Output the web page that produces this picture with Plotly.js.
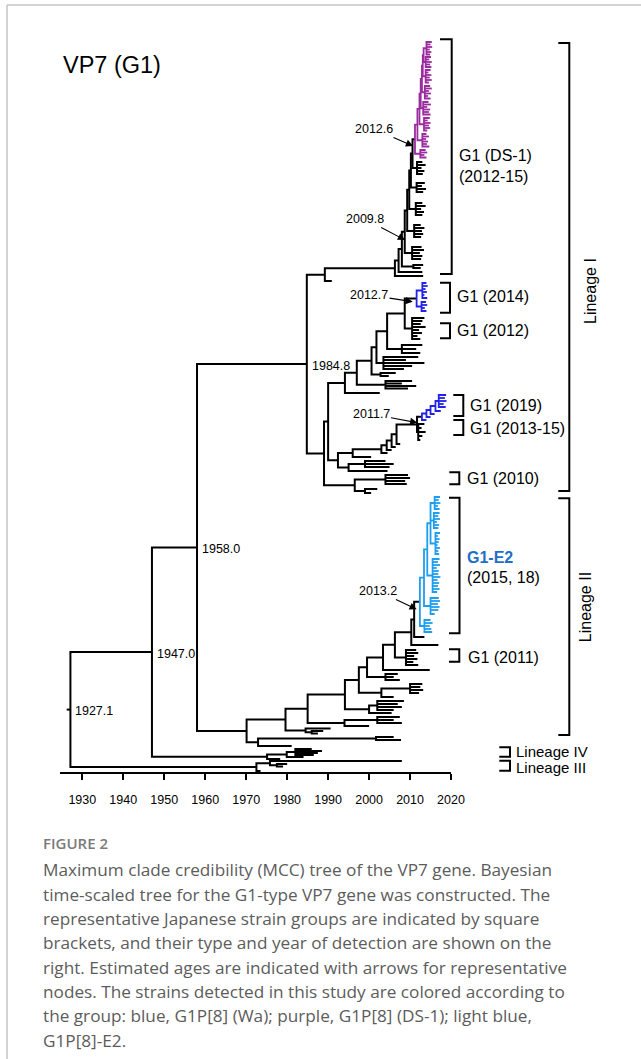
<!DOCTYPE html>
<html><head><meta charset="utf-8">
<script src="https://cdn.plot.ly/plotly-3.0.1.min.js"></script>
<style>html,body{margin:0;padding:0;background:#fff}#chart{width:641px;height:1059px}</style>
</head><body><div id="chart"></div>
<script>
// ================= DATA =================
// Axis ticks (years)
const tickYears = [1930, 1940, 1950, 1960, 1970, 1980, 1990, 2000, 2010, 2020];
const tickLabels = ["1930", "1940", "1950", "1960", "1970", "1980", "1990", "2000", "2010", "2020"];

// Tree in a Newick-like notation: tip = "date@row", internal = "(children)date", "#p/#b/#l" = clade colour
// Lineage I – G1 (DS-1) purple clade (strains of this study)
const ds1PurpleTop = "((2015.3@42,2015.0@44.5,2015.4@47,2014.8@49.5,2015.2@52,2014.9@54.5)2014.0,(2015.1@57,2014.7@59.5,2015.3@62,2014.9@64.5,2015.2@67)2013.8)2013.3";
const ds1PurpleSteps = [
  ["(2015.0@70,2014.5@72.5,2015.2@75,2014.8@77.5,2015.3@80,2014.6@82.5)2013.8", 2013.1],
  ["(2014.9@86,2015.3@88.5,2014.6@91,2015.1@93.5,2014.4@96,2015.0@98.5)2013.6", 2012.9],
  ["(2014.5@102,2015.1@104.5,2014.2@107,2014.9@109.5,2014.6@112,2015.0@114.5)2013.2", 2012.6],
  ["(2014.8@118,2014.3@120.5,2015.0@123,2014.6@125.5,2014.9@128,2014.2@130.5)2013.4", 2012.3],
  ["(2014.0@134,2014.6@136.5,2013.9@139,2014.4@141.5,2014.1@144,2014.7@146.5)2013.0", 2011.8],
  ["(2013.8@150,2014.2@152.5,2013.5@155,2014.0@157.5)2012.5", 2011.2]
];
// Lineage I – black part of the G1 (DS-1) group
const ds1BlackSteps = [
  ["(2013.0@162,2013.8@165,2012.8@168,2013.5@171,2013.1@174)2011.7", 2010.6],
  ["(2013.6@183,2012.9@186,2013.9@189,2013.2@192)2011.6", 2010.2],
  ["(2013.0@203,2013.8@206,2012.7@209,2013.4@212,2013.0@215)2011.4", 2009.8],
  ["(2012.6@225,2013.5@228,2012.9@231,2013.2@234,2012.7@237)2011.0", 2009.3],
  ["(2012.8@247,2013.4@250,2012.4@253,2013.0@256,2012.7@259)2010.5", 2008.7],
  ["(2013.2@265,2012.6@268)2010.8", 2008.0],
  ["2013.0@272", 2007.2],
  ["2013.2@276", 2006.3]
];
const ds1Sister = "1990.9@281";
// Lineage I – G1 (2014) blue, G1 (2012)
const clade2014 = "((2014.0@283,2014.3@286,2013.8@289,2014.1@292,2013.5@295,2014.2@298)2013.0,(2013.9@302,2014.2@305,2013.6@308,2014.0@311)2012.8)2011.6#b";
const clade2012 = "(2013.5@318,2013.0@321,2012.6@324,2013.8@327,2012.2@330,2012.9@333,2011.8@336,2012.5@339)2010.5";
const cladeJSteps = [
  ["(2013.0@345,2011.5@349,2012.5@353)2008.0", 2004.4],
  ["(2012.0@357,2009.0@360,2013.5@363,2010.5@366,2008.5@369)2003.5", 2001.8],
  ["(2006.5@373,2004.8@376)2002.8", 2000.6],
  ["(2010.5@381,2008.0@383.5,2011.5@386,2009.5@388.5)2004.0", 1997.0],
  ["2002.6@393", 1994.1]
];
// Lineage I – G1 (2019) blue, G1 (2013-15)
const clade2019Top = "(2018.8@395,2018.5@398,2018.9@401,2018.2@404,2018.7@407)2017.0";
const clade2019Steps = [["2017.5@411", 2016.2], ["2016.0@414", 2015.0], ["2015.0@417", 2014.0], ["2014.0@420", 2012.9]];
const clade201315 = "(2013.5@424,2012.8@428,2013.8@432,2013.0@436,2012.5@440)2012.0";
const cladeKSteps = [["2007.6@444", 2006.7], ["2006.5@447", 2005.5], ["2005.5@450", 2004.3], ["2004.5@453", 2003.0], ["2000.5@457", 1996.0]];
const cladeK2 = "((2004.0@461,2006.0@464,2005.0@467)1999.0,2004.5@471)1995.0";
// Lineage I – G1 (2010) and neighbours
const clade2010 = "((2009.5@475,2010.0@478,2008.8@481,2009.2@484)2004.0,(2002.0@489,2000.5@493)1999.0)1996.5";
// Lineage II – G1-E2 light blue clade
const e2Top = "((2017.3@497,2017.0@500,2017.4@503,2016.8@506,2017.2@509)2016.0,(2017.2@513,2016.9@516,2017.3@519,2016.6@522,2017.1@525,2016.9@528)2015.8,(2017.3@533,2016.8@536,2017.2@539,2017.0@542,2016.7@545,2017.3@548,2016.9@551,2017.1@554)2016.2)2015.0";
const e2Steps = [
  ["(2017.2@559,2016.8@562,2017.3@565,2016.5@568,2017.0@571,2016.9@574,2017.4@577,2016.7@580,2017.1@583,2016.8@586,2017.2@589,2016.6@592)2015.5", 2014.2],
  ["(2017.0@598,2017.3@601,2016.8@604,2017.2@607,2016.9@610,2016.0@614)2015.0", 2013.4],
  ["(2015.0@620,2015.5@623,2014.8@626,2015.2@629,2015.4@632)2013.5", 2012.4]
];
// Lineage II – backbone with side groups (incl. G1 (2011))
const lineage2Steps = [
  ["2013.5@637", 2011.0],
  ["2016.9@645", 2010.3],
  ["(2011.5@650,2012.0@653,2011.0@656,2011.8@659,2010.8@662,2012.0@665)2009.0", 2006.3],
  ["2014.8@670", 2003.4],
  ["(2007.0@674,2006.0@677,2007.5@680)2004.0", 1999.5],
  ["((2013.0@684,2012.5@687,2013.2@690,2012.2@693)2010.0,2006.0@697)2003.0", 1997.5],
  ["((2008.5@701,2007.0@704,2008.0@707,2006.0@710)2002.0,2005.5@713)2000.0", 1994.1],
  ["((2007.5@717,2006.0@720,2008.0@723)2002.0,2000.0@726)1994.0", 1985.0],
  ["(1990.6@728.5,(1988.8@731,1987.5@733.5)1986.0)1984.5", 1979.6],
  ["((2006.0@737,2007.8@740)2001.7,1981.1@746)1972.9", 1970.1]
];
// Lineage IV and III
const lineage4 = "(((1986.0@749,1988.5@751,1987.5@753,1986.5@755)1982.0,1984.0@757)1979.9,1978.3@759)1975.1";
const lineage3 = "((2008.0@761,(1980.0@764,1979.0@766.5)1977.5)1975.8,1973.5@771)1972.5";
// Dated deep nodes
const dateLineageI = 1984.8, dateSplitI_II = 1958.0, dateSplitIV = 1947.0, dateRoot = 1927.1;
const nodeLabelDates = [1927.1, 1947.0, 1958.0, 1984.8];
const arrowLabels = ["2012.6", "2009.8", "2012.7", "2011.7", "2013.2"];
const groupLabels = ["G1 (DS-1)", "(2012-15)", "G1 (2014)", "G1 (2012)", "G1 (2019)", "G1 (2013-15)", "G1 (2010)", "G1-E2", "(2015, 18)", "G1 (2011)"];
const lineageLabels = ["Lineage I", "Lineage II", "Lineage IV", "Lineage III"];
const captionHead = "FIGURE 2";
const captionLines = [
  "Maximum clade credibility (MCC) tree of the VP7 gene. Bayesian",
  "time-scaled tree for the G1-type VP7 gene was constructed. The",
  "representative Japanese strain groups are indicated by square",
  "brackets, and their type and year of detection are shown on the",
  "right. Estimated ages are indicated with arrows for representative",
  "nodes. The strains detected in this study are colored according to",
  "the group: blue, G1P[8] (Wa); purple, G1P[8] (DS-1); light blue,",
  "G1P[8]-E2."
];

// ================= BUILD TREE =================
function comb(top, steps) { let s = top; for (const [side, d] of steps) s = "(" + s + "," + side + ")" + d; return s; }
const ds1Purple = comb(ds1PurpleTop, ds1PurpleSteps) + "#p";
const ds1 = comb(ds1Purple, ds1BlackSteps);
const lineageIupper = "(" + ds1 + "," + ds1Sister + ")1989.2";
const cladeJ = comb("(" + clade2014 + "," + clade2012 + ")2008.7", cladeJSteps);
const blue2019 = comb(clade2019Top, clade2019Steps) + "#b";
const cladeK1 = comb("(" + blue2019 + "," + clade201315 + ")2011.7", cladeKSteps);
const lineageI = "(" + lineageIupper + ",((" + cladeJ + ",(" + cladeK1 + "," + cladeK2 + ")1992.4)1990.0," + clade2010 + ")1989.0)" + dateLineageI;
const g1e2 = comb(e2Top, e2Steps) + "#l";
const lineageII = comb(g1e2, lineage2Steps);
const treeStr = "(((" + lineageI + "," + lineageII + ")" + dateSplitI_II + "," + lineage4 + ")" + dateSplitIV + "," + lineage3 + ")" + dateRoot;

function parse(s) {
  let i = 0;
  function num() { const st = i; while (i < s.length && /[0-9.]/.test(s[i])) i++; return parseFloat(s.slice(st, i)); }
  function node() {
    const n = { children: [] };
    if (s[i] === "(") {
      i++; n.children.push(node());
      while (s[i] === ",") { i++; n.children.push(node()); }
      i++; n.date = num();
    } else { n.date = num(); i++; n.y = num(); }
    if (s[i] === "#") { n.color = s[i + 1]; i += 2; }
    return n;
  }
  return node();
}
const root = parse(treeStr);
function setY(n) { if (!n.children.length) return n.y; n.children.forEach(setY); n.y = (n.children[0].y + n.children[n.children.length - 1].y) / 2; return n.y; }
setY(root);

const colorMap = { k: "#000000", p: "#9b2c9f", b: "#2323e8", l: "#1e9ef0" };
const segs = { k: { x: [], y: [] }, p: { x: [], y: [] }, b: { x: [], y: [] }, l: { x: [], y: [] } };
function add(c, xs, ys) { segs[c].x.push(...xs, null); segs[c].y.push(...ys, null); }
const labelled = [];
function walk(n, ctx) {
  const c = n.color || ctx;
  if (nodeLabelDates.includes(n.date) && n.children.length) labelled.push(n);
  if (!n.children.length) return;
  const f = n.children[0], l = n.children[n.children.length - 1];
  add(c, [f.date, n.date, n.date, l.date], [f.y, f.y, l.y, l.y]);
  for (let k = 1; k < n.children.length - 1; k++) { const m = n.children[k]; add(c, [n.date, m.date], [m.y, m.y]); }
  n.children.forEach(ch => walk(ch, c));
}
add("k", [root.date - 0.9, root.date], [root.y, root.y]);
walk(root, "k");

const traces = ["k", "p", "b", "l"].map(c => ({
  type: "scatter", mode: "lines", x: segs[c].x, y: segs[c].y, hoverinfo: "skip", connectgaps: false,
  line: { color: colorMap[c], width: c === "k" ? 2 : 1.8 }
}));

// ================= LAYOUT =================
const W = 641, H = 1059, PB = 773;          // plot area bottom (axis) in px
const X0 = 1930 - 82.3 / 4.097, X1 = 1930 + (641 - 82.3) / 4.097;
const px = v => v / W;                       // paper x from pixel
const py = v => (PB - v) / PB;              // paper y from pixel
const yr = v => 1930 + (v - 82.3) / 4.097;  // data x from pixel
const FONT = "Liberation Sans, Arial, sans-serif";

const ann = [];
ann.push({ text: "VP7 (G1)", x: px(61), y: 65, xref: "paper", yref: "y", xanchor: "left", yanchor: "middle", showarrow: false, font: { family: FONT, size: 23.5, color: "#000" } });
labelled.forEach(n => ann.push({ text: n.date.toFixed(1), x: n.date + 0.7, y: n.y + 1.5, xref: "x", yref: "y", xanchor: "left", yanchor: "middle", showarrow: false, font: { family: FONT, size: 12.5, color: "#000" } }));
const arrowPos = [[374, 129, 413, 146], [365, 219, 405, 240], [369, 295, 412.7, 301.7], [371, 414, 417.3, 422.7], [378, 591, 416.7, 609.3]];
arrowLabels.forEach((t, k) => {
  const p = arrowPos[k];
  ann.push({ text: t, ax: yr(p[0]), ay: p[1], axref: "x", ayref: "y", x: yr(p[2]), y: p[3], xref: "x", yref: "y", showarrow: true, arrowhead: 2, arrowsize: 1.3, arrowwidth: 1.1, arrowcolor: "#000", standoff: 0, borderpad: 1, font: { family: FONT, size: 12.5, color: "#000" } });
});
const groupPos = [[456.7, 155], [456.7, 176], [455, 296], [455, 330.7], [468, 405.5], [468, 428], [465, 478.3], [465, 557.3], [465, 577.3], [466, 657.3]];
groupLabels.forEach((t, k) => {
  const isE2 = t === "G1-E2";
  ann.push({ text: isE2 ? "<b>" + t + "</b>" : t, x: px(groupPos[k][0]), y: groupPos[k][1], xref: "paper", yref: "y", xanchor: "left", yanchor: "middle", showarrow: false, font: { family: FONT, size: 16, color: isE2 ? "#1f6fc6" : "#000" } });
});
const linPos = [[590, 291, -90, 16], [585.7, 607.5, -90, 16], [514, 751.5, 0, 15], [514, 767, 0, 15]];
lineageLabels.forEach((t, k) => {
  const p = linPos[k];
  ann.push({ text: t, x: px(p[0]), y: p[1], xref: "paper", yref: "y", xanchor: p[2] ? "center" : "left", yanchor: "middle", textangle: p[2], showarrow: false, font: { family: FONT, size: p[3], color: "#000" } });
});
ann.push({ text: captionHead, x: px(40.7), y: py(843), xref: "paper", yref: "paper", xanchor: "left", yanchor: "middle", showarrow: false, font: { family: "Open Sans, sans-serif", size: 15, color: "#7a7a7a", weight: 600 } });
captionLines.forEach((t, k) => ann.push({ text: t, x: px(40.7), y: py(870 + 24.3 * k), xref: "paper", yref: "paper", xanchor: "left", yanchor: "middle", showarrow: false, font: { family: "Open Sans, sans-serif", size: 17.2, color: "#5c5c5c" } }));

const shapes = [];
const brackets = [
  [440, 451.7, 39.3, 274], [440, 450, 282.7, 312.7], [440, 450, 323.3, 338.3],
  [453.3, 463.3, 395, 416], [453.3, 463.3, 420, 435], [449.3, 459.3, 472.3, 484.3],
  [449, 459.5, 497.7, 633.3], [449, 459.3, 649.3, 661.7],
  [558.3, 569.3, 43, 491], [558.3, 569.3, 498.3, 735],
  [499.3, 510, 747.3, 756.7], [499.3, 510, 760.7, 770.7]
];
brackets.forEach(b => shapes.push({ type: "path", xref: "x", yref: "y", path: `M${yr(b[0])},${b[2]} L${yr(b[1])},${b[2]} L${yr(b[1])},${b[3]} L${yr(b[0])},${b[3]}`, line: { color: "#000", width: 2 } }));
shapes.push({ type: "line", xref: "x", yref: "paper", x0: yr(60), x1: 2020, y0: 0, y1: 0, line: { color: "#000", width: 2 } });
shapes.push({ type: "line", xref: "paper", yref: "paper", x0: px(7), x1: px(7), y0: py(1065), y1: py(5), line: { color: "#c4c4c4", width: 1.5 } });
shapes.push({ type: "line", xref: "paper", yref: "paper", x0: px(7), x1: 1.01, y0: py(5), y1: py(5), line: { color: "#c4c4c4", width: 1.5 } });

const layout = {
  width: W, height: H, margin: { l: 0, r: 0, t: 0, b: H - PB, pad: 0 },
  paper_bgcolor: "#fff", plot_bgcolor: "#fff", showlegend: false,
  xaxis: { range: [X0, X1], showgrid: false, zeroline: false, showline: false, ticks: "outside", ticklen: 6, tickwidth: 2, tickcolor: "#000",
    tickmode: "array", tickvals: tickYears, ticktext: tickLabels, tickfont: { family: FONT, size: 12.5, color: "#000" }, ticklabelstandoff: 9, fixedrange: true },
  yaxis: { range: [PB, 0], visible: false, fixedrange: true },
  annotations: ann, shapes: shapes
};
Plotly.newPlot("chart", traces, layout, { staticPlot: true, displayModeBar: false });
</script></body></html>
